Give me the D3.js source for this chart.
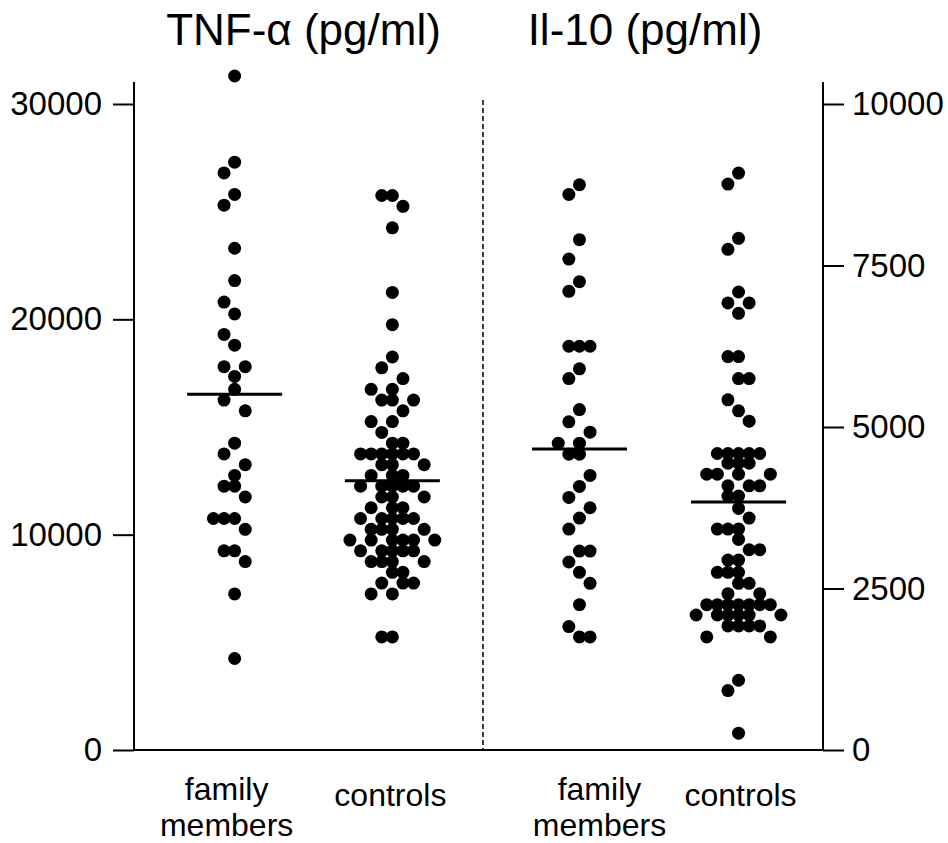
<!DOCTYPE html>
<html><head><meta charset="utf-8">
<script src="https://cdn.jsdelivr.net/npm/d3@7"></script>
<style>
body{margin:0;background:#fff}
svg{display:block}
text{font-family:"Liberation Sans",Arial,Helvetica,sans-serif;fill:#000}
</style>
</head><body>
<svg id="chart" width="948" height="843"></svg>
<script>
// ---------- data ----------
const panelTitles = ["TNF-\u03B1 (pg/ml)", "Il-10 (pg/ml)"];
const groupLabels = [["family", "members"], ["controls"]];
const tnfTicks = [0, 10000, 20000, 30000];
const il10Ticks = [0, 2500, 5000, 7500, 10000];

const tnfFamily = [31300, 27300, 26800, 25800, 25300, 23300, 21800, 20800, 20250, 19300,
  18800, 17800, 17800, 17350, 16750, 16250, 15750, 14250, 13750, 13250, 12750, 12250, 12250,
  11750, 10750, 10750, 10750, 10250, 9250, 9250, 8750, 7250, 4250];

const tnfControls = [25750, 25750, 25250, 24250, 21250, 19750, 18250, 17750, 17250,
  16750, 16750, 16250, 16250, 16250, 15750, 15250, 15250, 14750, 14250, 14250,
  13750, 13750, 13750, 13750, 13750, 13750, 13250, 13250, 13250, 12750, 12750, 12750,
  12250, 12250, 12250, 12250, 12250, 11750, 11750, 11750, 11250, 11250, 11250,
  10750, 10750, 10750, 10750, 10750, 10250, 10250, 10250, 10250,
  9750, 9750, 9750, 9750, 9750, 9750, 9250, 9250, 9250, 9250, 9250,
  8750, 8750, 8750, 8750, 8250, 8250, 7750, 7750, 7750, 7250, 7250, 5250, 5250];

const il10Family = [8750, 8600, 7900, 7600, 7250, 7100, 6250, 6250, 6250, 5900, 5750, 5270,
  5080, 4920, 4750, 4750, 4580, 4580, 4250, 4080, 3910, 3750, 3590, 3420, 3080, 3080,
  2910, 2750, 2580, 2250, 1910, 1750, 1750];

const il10Controls = [8930, 8760, 7920, 7750, 7090, 6920, 6920, 6760, 6090, 6090, 5750, 5750,
  5420, 5250, 5090, 4590, 4590, 4590, 4590, 4590, 4440, 4440, 4440, 4270, 4270, 4270, 4270,
  4090, 4090, 4090, 3930, 3930, 3740, 3590, 3420, 3420, 3420, 3260, 3100, 3100, 2940, 2940,
  2750, 2750, 2750, 2580, 2580, 2420, 2420, 2250, 2250, 2250, 2250, 2250, 2250, 2250,
  2090, 2090, 2090, 2090, 2090, 2090, 1920, 1920, 1920, 1920, 1750, 1750, 1080, 920, 260];

const groupMeans = [16520, 12500, 4660, 3840];

// ---------- layout ----------
const svg = d3.select("#chart");
const yBottom = 750, yTop = 104, axisTop = 82;
const leftX = 134, rightX = 823, divX = 483;
const tickLen = 21;

const yL = d3.scaleLinear().domain([0, 30000]).range([yBottom, yTop]);
const yR = d3.scaleLinear().domain([0, 10000]).range([yBottom, yTop]);

const xL = d3.scalePoint().domain(["family members", "controls"]).range([140, 487]).padding(0.6);
const xR = d3.scalePoint().domain(["family members", "controls"]).range([484, 834]).padding(0.6);

const sets = [
  {values: tnfFamily, x: xL, key: "family members", y: yL, mean: groupMeans[0], labelDx: -8},
  {values: tnfControls, x: xL, key: "controls", y: yL, mean: groupMeans[1], labelDx: -2},
  {values: il10Family, x: xR, key: "family members", y: yR, mean: groupMeans[2], labelDx: 20},
  {values: il10Controls, x: xR, key: "controls", y: yR, mean: groupMeans[3], labelDx: 2}
];

// axes
const axL = d3.axisLeft(yL).tickValues(tnfTicks).tickSize(tickLen).tickPadding(11)
  .tickFormat(d3.format("d"));
const gL = svg.append("g").attr("transform", `translate(${leftX},0)`).call(axL);
const axR = d3.axisRight(yR).tickValues(il10Ticks).tickSize(tickLen).tickPadding(8)
  .tickFormat(d3.format("d"));
const gR = svg.append("g").attr("transform", `translate(${rightX},0)`).call(axR);
[gL, gR].forEach(g => {
  g.select(".domain").remove();
  g.selectAll(".tick line").attr("stroke", "#000").attr("stroke-width", 2);
  g.selectAll(".tick text").attr("font-size", 33).attr("fill", "#000")
    .style("font-family", '"Liberation Sans",Arial,sans-serif');
});

svg.append("line").attr("x1", leftX).attr("x2", leftX).attr("y1", axisTop).attr("y2", yBottom + 1)
  .attr("stroke", "#000").attr("stroke-width", 2);
svg.append("line").attr("x1", rightX).attr("x2", rightX).attr("y1", axisTop).attr("y2", yBottom + 1)
  .attr("stroke", "#000").attr("stroke-width", 2);
svg.append("line").attr("x1", leftX).attr("x2", rightX).attr("y1", yBottom).attr("y2", yBottom)
  .attr("stroke", "#000").attr("stroke-width", 2);
svg.append("line").attr("x1", divX).attr("x2", divX).attr("y1", 100).attr("y2", yBottom)
  .attr("stroke", "#000").attr("stroke-width", 1.5).attr("stroke-dasharray", "5,3");

// titles
svg.append("text").attr("x", (leftX + divX) / 2 - 5).attr("y", 45).attr("text-anchor", "middle")
  .attr("font-size", 44).text(panelTitles[0]);
svg.append("text").attr("x", (divX + rightX) / 2 - 8).attr("y", 45).attr("text-anchor", "middle")
  .attr("font-size", 44).text(panelTitles[1]);

// beeswarm layout (column offsets chosen to avoid stacking on neighbours)
const step = 10.6, r = 6.5;
function swarm(values, xc, y) {
  const placed = [];
  values.slice().sort((a, b) => b - a).forEach(v => {
    const py = y(v);
    let best = 0, bestCost = Infinity;
    for (let k = 0; k <= 12; k++) {
      for (const off of (k === 0 ? [0] : [-k, k])) {
        let cost = Math.abs(off), hard = false;
        for (const p of placed) {
          if (p.off === off) {
            const dy = Math.abs(p.py - py);
            if (dy < 5) hard = true;
            else if (dy < 12) cost += 2;
            else if (dy < 23) cost += 1.5;
          }
        }
        if (!hard && cost < bestCost) { bestCost = cost; best = off; }
      }
    }
    placed.push({v, py, off: best});
  });
  return placed.map(p => ({value: p.v, cx: xc + p.off * step, cy: p.py}));
}

sets.forEach((s, i) => {
  const xc = s.x(s.key);
  const pts = swarm(s.values, xc, s.y);
  svg.append("g").selectAll("circle").data(pts).join("circle")
    .attr("cx", d => d.cx).attr("cy", d => d.cy).attr("r", r).attr("fill", "#000");
  svg.append("line").attr("x1", xc - 47.5).attr("x2", xc + 47.5)
    .attr("y1", s.y(s.mean)).attr("y2", s.y(s.mean))
    .attr("stroke", "#000").attr("stroke-width", 3);
  const lines = s.key === "family members" ? groupLabels[0] : groupLabels[1];
  const t = svg.append("text").attr("text-anchor", "middle").attr("font-size", 32);
  if (lines.length === 2) {
    t.append("tspan").attr("x", xc + s.labelDx).attr("y", 800).text(lines[0]);
    t.append("tspan").attr("x", xc + s.labelDx).attr("y", 836).text(lines[1]);
  } else {
    t.append("tspan").attr("x", xc + s.labelDx).attr("y", 806).text(lines[0]);
  }
});
</script>
</body></html>
